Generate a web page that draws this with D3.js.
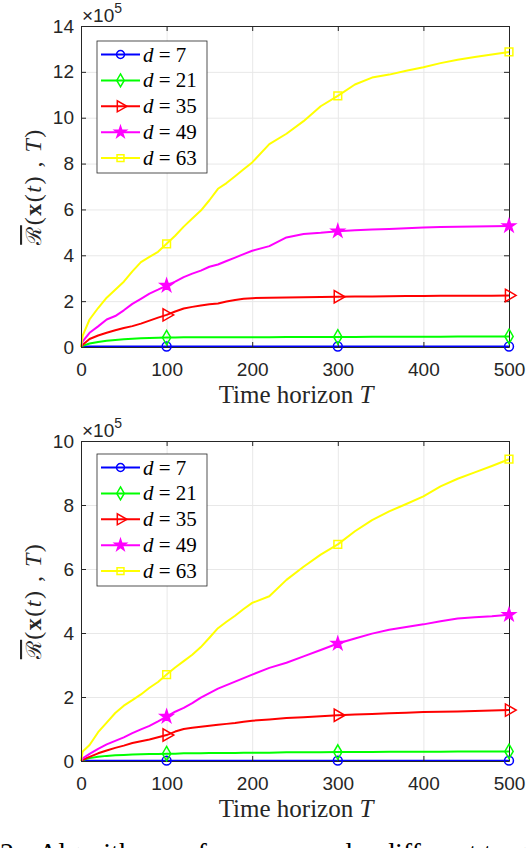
<!DOCTYPE html>
<html>
<head>
<meta charset="utf-8">
<script src="https://cdn.jsdelivr.net/npm/d3@7"></script>
<style>
  body { margin: 0; background: #fff; }
  svg { display: block; }
</style>
</head>
<body>
<div id="chart"></div>
<script>
// Time horizon samples
const T = [0, 2, 10, 20, 30, 40, 50, 60, 70, 80, 90, 100, 110, 120, 130, 140, 150, 160, 170, 180, 190, 200,
  220, 240, 260, 280, 300, 320, 340, 360, 380, 400, 420, 440, 460, 480, 500];

// Upper panel (x 10^5)
const topD7 = [0, 0.01, 0.02, 0.02, 0.02, 0.02, 0.02, 0.02, 0.02, 0.02, 0.02, 0.02, 0.02, 0.02, 0.02, 0.02, 0.02, 0.02, 0.02, 0.02, 0.02, 0.02,
  0.02, 0.02, 0.02, 0.02, 0.02, 0.02, 0.02, 0.02, 0.02, 0.02, 0.02, 0.02, 0.02, 0.02, 0.02];
const topD21 = [0, 0.05, 0.15, 0.22, 0.27, 0.31, 0.34, 0.36, 0.38, 0.39, 0.40, 0.41, 0.41, 0.42, 0.42, 0.42, 0.42, 0.43, 0.43, 0.43, 0.43, 0.43,
  0.43, 0.44, 0.44, 0.44, 0.44, 0.44, 0.45, 0.45, 0.45, 0.45, 0.45, 0.46, 0.46, 0.46, 0.46];
const topD35 = [0, 0.10, 0.35, 0.50, 0.62, 0.73, 0.83, 0.91, 1.02, 1.15, 1.28, 1.40, 1.55, 1.68, 1.75, 1.81, 1.86, 1.90, 1.98, 2.05, 2.10, 2.13,
  2.15, 2.16, 2.17, 2.18, 2.19, 2.20, 2.20, 2.21, 2.22, 2.22, 2.23, 2.23, 2.24, 2.24, 2.25];
const topD49 = [0, 0.25, 0.62, 0.90, 1.20, 1.35, 1.60, 1.88, 2.10, 2.33, 2.50, 2.68, 2.85, 3.05, 3.20, 3.33, 3.50, 3.60, 3.75, 3.90, 4.05, 4.20,
  4.40, 4.78, 4.93, 4.98, 5.05, 5.09, 5.12, 5.15, 5.18, 5.21, 5.23, 5.24, 5.26, 5.27, 5.28];
const topD63 = [0, 0.50, 1.20, 1.70, 2.15, 2.50, 2.85, 3.30, 3.70, 3.93, 4.15, 4.50, 4.85, 5.25, 5.60, 5.95, 6.40, 6.90, 7.15, 7.45, 7.75, 8.05,
  8.85, 9.30, 9.85, 10.50, 10.95, 11.45, 11.75, 11.88, 12.05, 12.20, 12.38, 12.53, 12.65, 12.76, 12.87];

// Lower panel (x 10^5)
const botD7 = [0, 0.01, 0.01, 0.01, 0.01, 0.01, 0.01, 0.01, 0.01, 0.01, 0.01, 0.01, 0.01, 0.01, 0.01, 0.01, 0.01, 0.01, 0.01, 0.01, 0.01, 0.01,
  0.01, 0.01, 0.01, 0.01, 0.01, 0.01, 0.01, 0.01, 0.01, 0.01, 0.01, 0.01, 0.01, 0.01, 0.01];
const botD21 = [0, 0.03, 0.09, 0.13, 0.16, 0.18, 0.19, 0.20, 0.21, 0.22, 0.22, 0.23, 0.23, 0.24, 0.24, 0.24, 0.25, 0.25, 0.25, 0.25, 0.26, 0.26,
  0.26, 0.27, 0.27, 0.27, 0.28, 0.28, 0.28, 0.29, 0.29, 0.29, 0.29, 0.30, 0.30, 0.30, 0.30];
const botD35 = [0, 0.04, 0.13, 0.24, 0.33, 0.41, 0.48, 0.56, 0.62, 0.67, 0.74, 0.81, 0.92, 1.00, 1.04, 1.07, 1.10, 1.13, 1.16, 1.19, 1.23, 1.26,
  1.30, 1.34, 1.37, 1.40, 1.43, 1.45, 1.47, 1.49, 1.51, 1.53, 1.54, 1.55, 1.56, 1.58, 1.59];
const botD49 = [0, 0.08, 0.22, 0.38, 0.52, 0.63, 0.74, 0.87, 0.99, 1.10, 1.24, 1.39, 1.54, 1.66, 1.81, 1.98, 2.12, 2.26, 2.37, 2.48, 2.59, 2.70,
  2.91, 3.07, 3.27, 3.47, 3.67, 3.83, 3.98, 4.10, 4.19, 4.27, 4.37, 4.45, 4.49, 4.52, 4.57];
const botD63 = [0, 0.30, 0.50, 0.90, 1.20, 1.50, 1.73, 1.90, 2.08, 2.29, 2.47, 2.70, 2.92, 3.12, 3.32, 3.56, 3.85, 4.15, 4.35, 4.54, 4.75, 4.94,
  5.15, 5.66, 6.07, 6.45, 6.77, 7.18, 7.53, 7.80, 8.03, 8.27, 8.58, 8.82, 9.02, 9.22, 9.43];

const dLabels = ["7", "21", "35", "49", "63"];
const markerT = [100, 300, 500];
const xTicks = [0, 100, 200, 300, 400, 500];
const topYTicks = [0, 2, 4, 6, 8, 10, 12, 14];
const botYTicks = [0, 2, 4, 6, 8, 10];

const colors = ["#0000ff", "#00ff00", "#ff0000", "#ff00ff", "#ffff00"];
const symbols = [d3.symbolCircle, d3.symbolDiamond, d3.symbolTriangle, d3.symbolStar, d3.symbolSquare];
const symSizes = [62, 60, 66, 50, 60];
const symRotate = [0, 0, 90, 0, 0];
const symFilled = [false, false, false, true, false];

const W = 530, H = 848;
const axisColor = "#262626";
const tickFont = "'Liberation Sans', Arial, Helvetica, sans-serif";
const serif = "'Liberation Serif', 'Times New Roman', serif";

const svg = d3.select("#chart").append("svg")
  .attr("width", W)
  .attr("height", H);

function drawPanel(cfg) {
  const left = 81, right = 509;
  const x = d3.scaleLinear().domain([0, 500]).range([left, right]);
  const y = d3.scaleLinear().domain([0, cfg.yMax]).range([cfg.bottom, cfg.top]);
  const g = svg.append("g");

  // grid
  g.append("g")
    .attr("transform", `translate(0,${cfg.bottom})`)
    .call(d3.axisBottom(x).tickValues(xTicks).tickSize(-(cfg.bottom - cfg.top)).tickFormat(""))
    .call(s => s.select(".domain").remove())
    .call(s => s.selectAll("line").attr("stroke", "#e8e8e8").attr("stroke-width", 1));
  g.append("g")
    .attr("transform", `translate(${left},0)`)
    .call(d3.axisLeft(y).tickValues(cfg.yTicks).tickSize(-(right - left)).tickFormat(""))
    .call(s => s.select(".domain").remove())
    .call(s => s.selectAll("line").attr("stroke", "#e8e8e8").attr("stroke-width", 1));

  // series lines
  const line = d3.line()
    .x((d, i) => x(T[i]))
    .y(d => y(d));
  cfg.series.forEach((vals, k) => {
    g.append("path")
      .datum(vals)
      .attr("fill", "none")
      .attr("stroke", colors[k])
      .attr("stroke-width", 2)
      .attr("stroke-linejoin", "round")
      .attr("d", line);
  });

  // axes (box with inward ticks)
  const styleAxis = s => {
    s.select(".domain").attr("stroke", axisColor).attr("stroke-width", 1);
    s.selectAll(".tick line").attr("stroke", axisColor);
    s.selectAll("text").attr("fill", axisColor).style("font-family", tickFont).style("font-size", "19px");
  };
  g.append("g")
    .attr("transform", `translate(0,${cfg.bottom})`)
    .call(d3.axisBottom(x).tickValues(xTicks).tickSizeInner(-5).tickSizeOuter(0).tickPadding(16))
    .call(styleAxis);
  g.append("g")
    .attr("transform", `translate(0,${cfg.top})`)
    .call(d3.axisTop(x).tickValues(xTicks).tickSizeInner(-5).tickSizeOuter(0).tickFormat(""))
    .call(styleAxis);
  g.append("g")
    .attr("transform", `translate(${left},0)`)
    .call(d3.axisLeft(y).tickValues(cfg.yTicks).tickSizeInner(-5).tickSizeOuter(0).tickPadding(7))
    .call(styleAxis);
  g.append("g")
    .attr("transform", `translate(${right},0)`)
    .call(d3.axisRight(y).tickValues(cfg.yTicks).tickSizeInner(-5).tickSizeOuter(0).tickFormat(""))
    .call(styleAxis);

  // markers at T = 100, 300, 500
  cfg.series.forEach((vals, k) => {
    const pts = markerT.map(t => [x(t), y(vals[T.indexOf(t)])]);
    g.selectAll(null)
      .data(pts)
      .enter()
      .append("path")
      .attr("d", d3.symbol().type(symbols[k]).size(symSizes[k]))
      .attr("transform", d => `translate(${d[0]},${d[1]}) rotate(${symRotate[k]})`)
      .attr("fill", symFilled[k] ? colors[k] : "none")
      .attr("stroke", colors[k])
      .attr("stroke-width", 1.5);
  });

  // exponent label
  const ex = g.append("text")
    .attr("x", 82)
    .attr("y", cfg.top - 4)
    .attr("fill", axisColor)
    .style("font-family", tickFont)
    .style("font-size", "19px");
  ex.append("tspan").text("\u00d710");
  ex.append("tspan").attr("dy", -9).style("font-size", "14px").text("5");

  // x label
  const xl = g.append("text")
    .attr("x", 296)
    .attr("y", cfg.bottom + 56)
    .attr("text-anchor", "middle")
    .attr("fill", axisColor)
    .style("font-family", serif)
    .style("font-size", "25px");
  xl.append("tspan").text("Time horizon ");
  xl.append("tspan").style("font-style", "italic").text("T");

  // y label
  const yl = g.append("text")
    .attr("transform", `translate(41,${(cfg.top + cfg.bottom) / 2}) rotate(-90)`)
    .attr("text-anchor", "middle")
    .attr("fill", axisColor)
    .style("font-family", serif)
    .style("font-size", "24px")
    .style("letter-spacing", "1.5px");
  yl.append("tspan").style("font-family", "'DejaVu Serif', serif").style("font-size", "21px")
    .style("text-decoration", "overline").text("\u211B");
  yl.append("tspan").text("(");
  yl.append("tspan").style("font-weight", "bold").text("x");
  yl.append("tspan").text("(");
  yl.append("tspan").style("font-style", "italic").text("t");
  yl.append("tspan").text(") ,");
  yl.append("tspan").style("font-style", "italic").text(" T");
  yl.append("tspan").text(")");

  // legend
  const lg = g.append("g");
  lg.append("rect")
    .attr("x", 97)
    .attr("y", cfg.legTop)
    .attr("width", 110)
    .attr("height", 132)
    .attr("fill", "#fff")
    .attr("stroke", axisColor)
    .attr("stroke-width", 0.8);
  dLabels.forEach((lab, k) => {
    const ly = cfg.legTop + 13.5 + k * 25.9;
    lg.append("line")
      .attr("x1", 101).attr("x2", 140)
      .attr("y1", ly).attr("y2", ly)
      .attr("stroke", colors[k])
      .attr("stroke-width", 2);
    lg.append("path")
      .attr("d", d3.symbol().type(symbols[k]).size(symSizes[k] * 0.8))
      .attr("transform", `translate(120.5,${ly}) rotate(${symRotate[k]})`)
      .attr("fill", symFilled[k] ? colors[k] : "none")
      .attr("stroke", colors[k])
      .attr("stroke-width", 1.5);
    const t = lg.append("text")
      .attr("x", 143)
      .attr("y", ly + 7)
      .attr("fill", "#000")
      .style("font-family", serif)
      .style("font-size", "21px");
    t.append("tspan").style("font-style", "italic").text("d");
    t.append("tspan").text(" = " + lab);
  });
}

drawPanel({ top: 26, bottom: 347, yMax: 14, yTicks: topYTicks, legTop: 41,
  series: [topD7, topD21, topD35, topD49, topD63] });
drawPanel({ top: 441, bottom: 761, yMax: 10, yTicks: botYTicks, legTop: 454,
  series: [botD7, botD21, botD35, botD49, botD63] });

// caption, cut at the bottom edge as in the source page
const cap = svg.append("g")
  .attr("fill", "#000")
  .style("font-family", serif)
  .style("font-size", "28px");
cap.append("text").attr("x", 0).attr("y", 862).text("2:");
cap.append("text").attr("x", 38).attr("y", 862).text("Algorithm performance under different target dimensions");
</script>
</body>
</html>
